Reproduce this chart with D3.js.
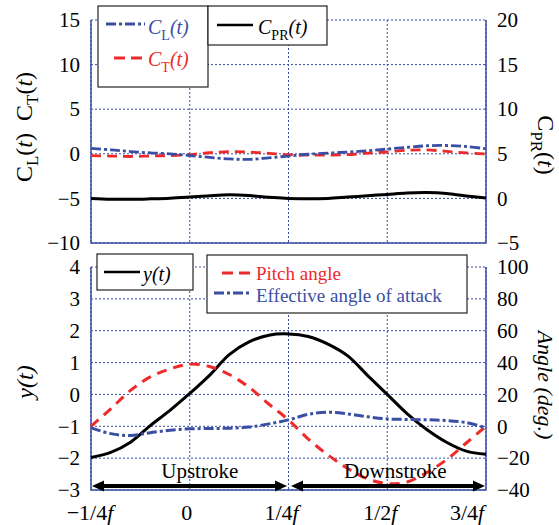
<!DOCTYPE html>
<html><head><meta charset="utf-8">
<script src="https://cdn.jsdelivr.net/npm/d3@7"></script>
<style>
body{margin:0;background:#fff}
text{font-family:"Liberation Serif","Times New Roman",serif}
</style>
</head><body>
<svg id="c" width="559" height="525"></svg>
<script>
// ---- data ----
const tVals = [-0.25,-0.2,-0.15,-0.1,-0.05,0,0.05,0.1,0.15,0.2,0.25,0.3,0.35,0.4,0.45,0.5,0.55,0.6,0.65,0.7,0.75];
const CL  = [0.6,0.45,0.25,0.1,0.0,-0.2,-0.4,-0.57,-0.63,-0.45,-0.25,-0.05,0.08,0.2,0.33,0.53,0.72,0.9,0.93,0.82,0.57];
const CT  = [-0.2,-0.25,-0.3,-0.25,-0.2,-0.1,0.12,0.23,0.2,0.05,-0.1,-0.15,-0.15,-0.1,0.08,0.2,0.4,0.43,0.28,0.1,-0.02];
const CPR = [0,-0.1,-0.1,-0.05,0.02,0.15,0.3,0.4,0.32,0.12,0.0,-0.05,0.0,0.15,0.3,0.45,0.6,0.65,0.55,0.28,0.05];
const yT  = [-1.98,-1.82,-1.5,-0.98,-0.5,0.03,0.6,1.25,1.65,1.86,1.9,1.82,1.58,1.21,0.6,0.0,-0.6,-1.1,-1.5,-1.78,-1.88];
const pitch = [0,11,22.5,31,36,39,37.5,32.5,24.5,14,4,-8,-18,-26.5,-33,-36,-35,-29,-21,-10.5,0];
const aoa   = [-1,-4.6,-5.8,-4,-2.5,-1.6,-1.4,-1.2,-0.5,1.5,4,7.5,8.8,7.8,6,4.6,4.3,4.1,3.6,2.3,-1];

const xTicks = [-0.25,0,0.25,0.5,0.75];
const xTickLabels = [["\u22121/4","f"],["0",""],["1/4","f"],["1/2","f"],["3/4","f"]];
const topLTicks = [-10,-5,0,5,10,15];
const topRTicks = [-5,0,5,10,15,20];
const botLTicks = [-3,-2,-1,0,1,2,3,4];
const botRTicks = [-40,-20,0,20,40,60,80,100];

// ---- styles ----
const BLUE = "#3a4ea3", RED = "#ee2a2a", BLACK = "#000";
const SERIF = "Liberation Serif";
const svg = d3.select("#c");
const L = 91, R = 486;
const x = d3.scaleLinear([-0.25,0.75],[L,R]);
const yTL = d3.scaleLinear([-10,15],[243,20]);
const yTR = d3.scaleLinear([-5,20],[243,20]);
const yBL = d3.scaleLinear([-3,4],[490,267]);
const yBR = d3.scaleLinear([-40,100],[490,267]);
const fmt = v => (v<0? "\u2212"+Math.abs(v) : ""+v);

function panel(yL, yR, lt, rt){
  const top = yL.range()[1], bot = yL.range()[0];
  const g = svg.append("g");
  g.selectAll("line.h").data(lt).join("line")
    .attr("x1",L).attr("x2",R).attr("y1",d=>yL(d)).attr("y2",d=>yL(d))
    .attr("stroke",BLUE).attr("stroke-width",1).attr("stroke-dasharray","2,2");
  g.selectAll("line.v").data(xTicks).join("line")
    .attr("y1",top).attr("y2",bot).attr("x1",d=>x(d)).attr("x2",d=>x(d))
    .attr("stroke",BLUE).attr("stroke-width",1).attr("stroke-dasharray","2,2");
  svg.append("path").attr("d",`M${L},${top}V${bot}H${R}V${top}`)
    .attr("fill","none").attr("stroke",BLUE).attr("stroke-width",1.5);
  const al = svg.append("g").attr("transform",`translate(${L},0)`)
    .call(d3.axisLeft(yL).tickValues(lt).tickSize(0).tickPadding(11).tickFormat(fmt))
    .attr("font-family",SERIF).attr("font-size",21);
  al.select(".domain").remove();
  al.selectAll("text").attr("fill","#000");
  const ar = svg.append("g").attr("transform",`translate(${R},0)`)
    .call(d3.axisRight(yR).tickValues(rt).tickSize(0).tickPadding(11).tickFormat(fmt))
    .attr("font-family",SERIF).attr("font-size",21);
  ar.select(".domain").remove();
  ar.selectAll("text").attr("fill","#000");
}
panel(yTL,yTR,topLTicks,topRTicks);
panel(yBL,yBR,botLTicks,botRTicks);

function series(vals, ys, color, dash, w){
  const line = d3.line().x((d,i)=>x(tVals[i])).y(d=>ys(d)).curve(d3.curveCatmullRom.alpha(0.5));
  svg.append("path").datum(vals).attr("d",line).attr("fill","none")
    .attr("stroke",color).attr("stroke-width",w).attr("stroke-dasharray",dash);
}
series(CPR,yTR,BLACK,null,3);
series(CT,yTL,RED,"10,6",2.8);
series(CL,yTL,BLUE,"10,3,3,3",2.8);

series(yT,yBL,BLACK,null,3);
series(pitch,yBR,RED,"10,7",3);
series(aoa,yBR,BLUE,"10,3,3,3",3);

// x tick labels
const xOff = [-1,-3,-7,-7,-19];
const xl = svg.append("g").attr("transform","translate(0,520)");
xTicks.forEach((v,i)=>{
  const tx = xl.append("text").attr("x",x(v)+xOff[i]).attr("text-anchor","middle").attr("font-size",22);
  tx.append("tspan").text(xTickLabels[i][0]);
  if (xTickLabels[i][1]) tx.append("tspan").attr("font-style","italic").text(xTickLabels[i][1]);
});

// stroke arrows
function arrow(x1,x2,yy){
  const h = 12, w = 5.5;
  svg.append("line").attr("x1",x1+h-1).attr("x2",x2-h+1).attr("y1",yy).attr("y2",yy)
    .attr("stroke",BLACK).attr("stroke-width",4);
  svg.append("path").attr("d",`M${x1},${yy}L${x1+h},${yy-w}L${x1+h},${yy+w}Z`).attr("fill",BLACK);
  svg.append("path").attr("d",`M${x2},${yy}L${x2-h},${yy-w}L${x2-h},${yy+w}Z`).attr("fill",BLACK);
}
arrow(x(-0.25)+1, x(0.25)-1.5, 486);
arrow(x(0.25)+2.5, x(0.75)-1, 486);
svg.append("text").attr("x",(x(-0.25)+x(0.25))/2+10).attr("y",478).attr("text-anchor","middle").attr("font-size",21).text("Upstroke");
svg.append("text").attr("x",(x(0.25)+x(0.75))/2+8).attr("y",478).attr("text-anchor","middle").attr("font-size",21).text("Downstroke");

// axis titles
const t1 = svg.append("text").attr("transform","translate(32,127) rotate(-90)").attr("text-anchor","middle").attr("font-size",24);
t1.append("tspan").text("C");
t1.append("tspan").attr("font-size",17).attr("dy",6).text("L");
t1.append("tspan").attr("dy",-6).text("(");
t1.append("tspan").attr("font-style","italic").text("t");
t1.append("tspan").text(")\u2002C");
t1.append("tspan").attr("font-size",17).attr("dy",6).text("T");
t1.append("tspan").attr("dy",-6).text("(");
t1.append("tspan").attr("font-style","italic").text("t");
t1.append("tspan").text(")");

const t2 = svg.append("text").attr("transform","translate(538,145) rotate(90)").attr("text-anchor","middle").attr("font-size",24);
t2.append("tspan").text("C");
t2.append("tspan").attr("font-size",17).attr("dy",7).text("PR");
t2.append("tspan").attr("dy",-7).text("(");
t2.append("tspan").attr("font-style","italic").text("t");
t2.append("tspan").text(")");

svg.append("text").attr("transform","translate(33,382) rotate(-90)").attr("text-anchor","middle")
  .attr("font-size",24).attr("font-style","italic").text("y(t)");
svg.append("text").attr("transform","translate(538,385) rotate(90)").attr("text-anchor","middle")
  .attr("font-size",22).attr("font-style","italic").text("Angle (deg.)");

// legends
function box(x1,y1,x2,y2){
  svg.append("rect").attr("x",x1).attr("y",y1).attr("width",x2-x1).attr("height",y2-y1)
    .attr("fill","#fff").attr("stroke","#222").attr("stroke-width",1.2);
}
function lsample(x1,x2,yy,color,dash,w){
  svg.append("line").attr("x1",x1).attr("x2",x2).attr("y1",yy).attr("y2",yy)
    .attr("stroke",color).attr("stroke-width",w).attr("stroke-dasharray",dash);
}
box(98,6,208,87);
box(208,6,327,45);
lsample(106,145,24,BLUE,"10,3,3,3",3);
lsample(114,142,58,RED,"11,6",3);
lsample(217,253,25,BLACK,null,2.5);
function coefLabel(xx,yy,subTxt,color){
  const tx = svg.append("text").attr("x",xx).attr("y",yy).attr("font-size",20).attr("fill",color);
  tx.append("tspan").attr("font-style","italic").text("C");
  tx.append("tspan").attr("font-size",14).attr("dy",6).text(subTxt);
  tx.append("tspan").attr("dy",-6).attr("font-style","italic").text("(t)");
}
coefLabel(148,34,"L",BLUE);
coefLabel(148,66,"T",RED);
coefLabel(258,34,"PR",BLACK);

box(97,254,193,290);
lsample(104,140,272,BLACK,null,2.5);
svg.append("text").attr("x",143).attr("y",281).attr("font-size",20).attr("font-style","italic").text("y(t)");

box(207,255,467,313);
lsample(222,250,273,RED,"11,6",3);
lsample(214,250,293,BLUE,"10,3,3,3",3);
svg.append("text").attr("x",256).attr("y",280).attr("font-size",19).attr("fill",RED).text("Pitch angle");
svg.append("text").attr("x",256).attr("y",302).attr("font-size",19).attr("fill",BLUE).text("Effective angle of attack");
</script>
</body></html>
